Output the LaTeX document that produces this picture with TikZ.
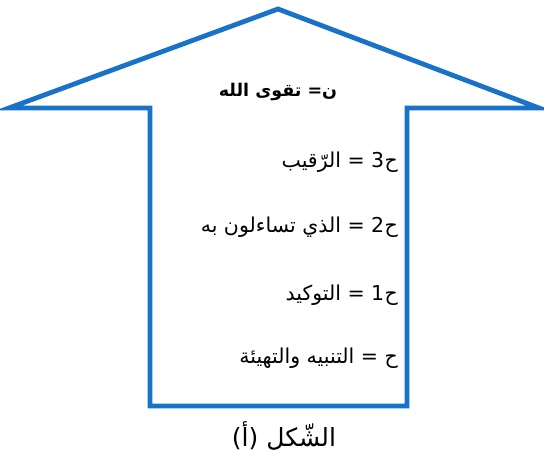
\documentclass[tikz,border=0pt]{standalone}
\usepackage{fontspec}
\TeXXeTstate=1
\newfontfamily\arabicfont[Script=Arabic]{DejaVu Sans}
\definecolor{arrowblue}{RGB}{24,114,200}
\begin{document}
\begin{tikzpicture}[x=1pt,y=-1pt,
  lbl/.style={font=\arabicfont\fontsize{20.5}{24}\selectfont, anchor=base east, inner sep=0pt},
  arrowline/.style={draw=arrowblue, line width=4.8pt, line join=miter}]
\useasboundingbox (0,0) rectangle (544,462);
\coordinate (tip) at (278,9);
\coordinate (lw) at (9,108);
\coordinate (rw) at (539,108);
\draw[arrowline] (tip) -- (lw) -- (150,108) -- (150,406) -- (407,406) -- (407,108) -- (rw) -- cycle;
\node[font=\arabicfont\bfseries\fontsize{17.5}{21}\selectfont, inner sep=0pt] (t0) at (278,92) {\beginR ن= تقوى الله\endR};
% line 1: ha, digit 3, rest
\node[lbl] (h1) at (398,168) {ح};
\node[lbl] (d1) at (h1.base west) {3};
\node[lbl] (t1) at ([xshift=-6pt]d1.base west) {\beginR = الرّقيب\endR};
% line 2
\node[lbl] (h2) at (398,233) {ح};
\node[lbl] (d2) at (h2.base west) {2};
\node[lbl] (t2) at ([xshift=-6pt]d2.base west) {\beginR = الذي تساءلون به\endR};
% line 3
\node[lbl] (h3) at (398,301) {ح};
\node[lbl] (d3) at (h3.base west) {1};
\node[lbl] (t3) at ([xshift=-6pt]d3.base west) {\beginR = التوكيد\endR};
% line 4
\node[lbl] (t4) at (398,364) {\beginR ح = التنبيه والتهيئة\endR};
\node[font=\arabicfont\fontsize{25}{30}\selectfont, inner sep=0pt] (cap) at (284,436) {\beginR الشّكل (أ)\endR};
\end{tikzpicture}
\end{document}
